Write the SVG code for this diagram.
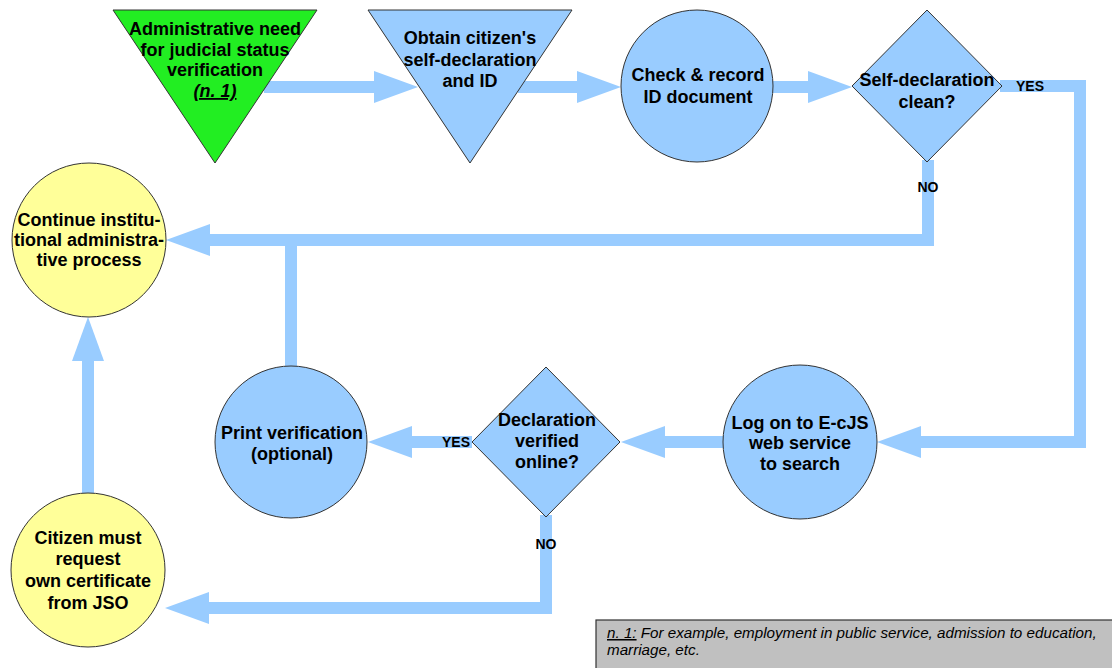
<svg xmlns="http://www.w3.org/2000/svg" width="1112" height="668" viewBox="0 0 1112 668">
<style>
.bg{fill:#ffffff}
.blue{fill:#99ccff;stroke:#333333;stroke-width:1}
.green{fill:#22ee22;stroke:#333333;stroke-width:1}
.yellow{fill:#ffff99;stroke:#333333;stroke-width:1}
.t{font-family:"Liberation Sans",Arial,sans-serif;font-weight:bold;font-size:18px;fill:#000;text-anchor:middle}
.lbl{font-family:"Liberation Sans",Arial,sans-serif;font-weight:bold;font-size:14px;fill:#000}
.c{fill:none;stroke:#99ccff;stroke-width:12}
.note{font-family:"Liberation Sans",Arial,sans-serif;font-style:italic;font-size:15.2px;fill:#000}
</style>
<defs>
<marker id="ah" markerUnits="userSpaceOnUse" markerWidth="46" markerHeight="34" viewBox="0 0 46 34" refX="4" refY="17" orient="auto">
<path d="M0,1 L44,17 L0,33 Z" fill="#99ccff"/>
</marker>
</defs>
<rect class="bg" x="0" y="0" width="1112" height="668"/>

<g id="connectors">
<line class="c" x1="264" y1="87" x2="378" y2="87" marker-end="url(#ah)"/>
<line class="c" x1="518" y1="87" x2="581" y2="87" marker-end="url(#ah)"/>
<line class="c" x1="772" y1="87" x2="812" y2="87" marker-end="url(#ah)"/>
<polyline class="c" points="1000,86 1080,86 1080,442 917,442" marker-end="url(#ah)"/>
<line class="c" x1="724" y1="442" x2="661" y2="442" marker-end="url(#ah)"/>
<line class="c" x1="472" y1="442" x2="408" y2="442" marker-end="url(#ah)"/>
<line class="c" x1="291" y1="367" x2="291" y2="240"/>
<polyline class="c" points="928,160 928,240 206,240" marker-end="url(#ah)"/>
<polyline class="c" points="546,515 546,608 205,608" marker-end="url(#ah)"/>
<line class="c" x1="88" y1="494" x2="88" y2="357" marker-end="url(#ah)"/>
<text class="lbl" x="1016" y="91">YES</text>
<text class="lbl" x="928" y="192" text-anchor="middle">NO</text>
<text class="lbl" x="442" y="447">YES</text>
<text class="lbl" x="546" y="549" text-anchor="middle">NO</text>
</g>

<g id="n-need">
<polygon class="green" points="113,10 317,10 215,163"/>
<text class="t" x="215" y="35">Administrative need</text>
<text class="t" x="215" y="56">for judicial status</text>
<text class="t" x="215" y="76">verification</text>
<text class="t" x="215" y="97" font-style="italic" text-decoration="underline">(n. 1)</text>
</g>

<g id="n-obtain">
<polygon class="blue" points="368,10 572,10 470,163"/>
<text class="t" x="470" y="44">Obtain citizen's</text>
<text class="t" x="470" y="66">self-declaration</text>
<text class="t" x="470" y="87">and ID</text>
</g>

<g id="n-check">
<circle class="blue" cx="697" cy="86" r="76"/>
<text class="t" x="698" y="81">Check &amp; record</text>
<text class="t" x="698" y="103">ID document</text>
</g>

<g id="n-clean">
<polygon class="blue" points="927,10 1002,86 927,162 852,86"/>
<text class="t" x="927" y="86">Self-declaration</text>
<text class="t" x="927" y="108">clean?</text>
</g>

<g id="n-continue">
<circle class="yellow" cx="89" cy="240" r="77"/>
<text class="t" x="89" y="226">Continue institu-</text>
<text class="t" x="89" y="246">tional administra-</text>
<text class="t" x="89" y="266">tive process</text>
</g>

<g id="n-logon">
<circle class="blue" cx="800" cy="442" r="77"/>
<text class="t" x="800" y="429">Log on to E-cJS</text>
<text class="t" x="800" y="449">web service</text>
<text class="t" x="800" y="470">to search</text>
</g>

<g id="n-verified">
<polygon class="blue" points="546,367 620,442 546,517 472,442"/>
<text class="t" x="547" y="426">Declaration</text>
<text class="t" x="547" y="447">verified</text>
<text class="t" x="547" y="468">online?</text>
</g>

<g id="n-print">
<circle class="blue" cx="291" cy="442" r="76"/>
<text class="t" x="292" y="439">Print verification</text>
<text class="t" x="292" y="460">(optional)</text>
</g>

<g id="n-citizen">
<circle class="yellow" cx="88" cy="570" r="77"/>
<text class="t" x="88" y="544">Citizen must</text>
<text class="t" x="88" y="565">request</text>
<text class="t" x="88" y="587">own certificate</text>
<text class="t" x="88" y="609">from JSO</text>
</g>

<g id="footnote">
<rect x="596" y="620" width="530" height="60" fill="#c0c0c0" stroke="#333333" stroke-width="1.2"/>
<text class="note" x="607" y="638"><tspan text-decoration="underline">n. 1:</tspan> For example, employment in public service, admission to education,</text>
<text class="note" x="607" y="655">marriage, etc.</text>
</g>
</svg>
